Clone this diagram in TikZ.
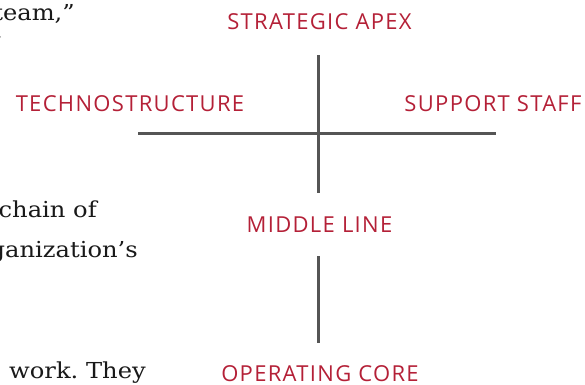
\documentclass[tikz,border=0pt]{standalone}
\usepackage{fontspec}
\setmainfont{DejaVu Serif}[FakeStretch=1.1]
\newfontfamily\labelfont{Open Sans}[LetterSpace=6]
\definecolor{partred}{RGB}{180,32,55}
\definecolor{rulegray}{RGB}{85,85,85}
\begin{document}
\frenchspacing
\begin{tikzpicture}[x=1pt,y=-1pt,
  part/.style={font=\labelfont\fontsize{22}{26}\selectfont, text=partred, inner sep=0pt, anchor=base},
  prose/.style={font=\fontsize{22}{26}\selectfont, text=black!90, inner sep=0pt, anchor=base east},
  rule/.style={draw=rulegray, line width=3pt}]
\useasboundingbox (0,0) rectangle (585,384);

% running text beside the figure
\node[prose] (p1) at (75,20) {team,”};
\node[prose] (p2) at (3,38) {.};
\node[prose] (p3) at (97,217) {chain of};
\node[prose] (p4) at (138,257) {organization’s};
\node[prose] (p5) at (146,378) {work. They};

% the five parts of the organization
\node[part] (apex) at (319.5,29) {STRATEGIC APEX};
\node[part] (techno) at (130,111) {TECHNOSTRUCTURE};
\node[part] (support) at (493,111) {SUPPORT STAFF};
\node[part] (middle) at (319.5,232) {MIDDLE LINE};
\node[part] (core) at (320,381) {OPERATING CORE};

% the cross and the stem
\coordinate (vtop) at (318.5,55);
\coordinate (vbot) at (318.5,193);
\coordinate (hleft) at (138,133.5);
\coordinate (hright) at (496,133.5);
\coordinate (stemtop) at (318.5,256);
\coordinate (stembot) at (318.5,342.5);
\draw[rule] (vtop) -- (vbot);
\draw[rule] (hleft) -- (hright);
\draw[rule] (stemtop) -- (stembot);
\end{tikzpicture}
\end{document}
